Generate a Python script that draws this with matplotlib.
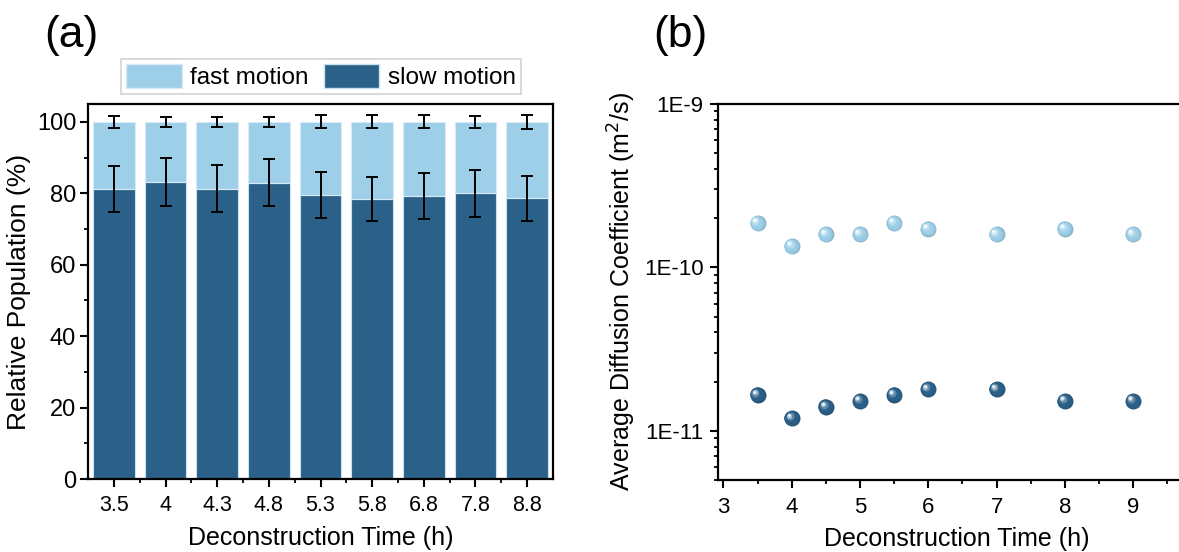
import numpy as np
import matplotlib
matplotlib.use('Agg')
import matplotlib.pyplot as plt
import matplotlib.transforms as mtransforms
from matplotlib.patches import Patch
from matplotlib.ticker import FixedLocator, FuncFormatter, LogLocator, NullFormatter
from matplotlib.colors import to_rgb

plt.rcParams['font.family'] = ['Liberation Sans', 'DejaVu Sans']

# ---- data: panel (a) ----
times_a = ['3.5', '4', '4.3', '4.8', '5.3', '5.8', '6.8', '7.8', '8.8']
slow_pct = [81.2, 83.2, 81.3, 83.0, 79.6, 78.4, 79.2, 80.0, 78.6]
slow_err = [6.5, 6.7, 6.5, 6.6, 6.5, 6.3, 6.4, 6.5, 6.3]
fast_err = [1.6, 1.4, 1.5, 1.4, 1.8, 1.8, 1.8, 1.7, 1.9]

# ---- data: panel (b) ----
times_b = [3.5, 4, 4.5, 5, 5.5, 6, 7, 8, 9]
d_fast = [1.87e-10, 1.35e-10, 1.59e-10, 1.59e-10, 1.87e-10, 1.72e-10, 1.59e-10, 1.72e-10, 1.59e-10]
d_slow = [1.66e-11, 1.19e-11, 1.40e-11, 1.52e-11, 1.66e-11, 1.79e-11, 1.79e-11, 1.52e-11, 1.52e-11]

c_fast = '#9ecfe8'
c_slow = '#2b6189'

W, H = 1179, 552
fig = plt.figure(figsize=(W / 100, H / 100), dpi=100)


def px_axes(x0, y0, x1, y1):
    # pixel box (top-left origin) -> figure fraction
    return fig.add_axes([x0 / W, 1 - y1 / H, (x1 - x0) / W, (y1 - y0) / H])


def style_axes(ax):
    for s in ax.spines.values():
        s.set_linewidth(1.6)
    ax.tick_params(which='major', direction='out', length=5.5, width=1.5, labelsize=15.5, pad=5)
    ax.tick_params(which='minor', direction='out', length=3, width=1.3)


# ---- panel (a): stacked bars ----
ax1 = px_axes(88, 104, 553, 479)
x = np.arange(len(times_a))
fast_pct = [100 - s for s in slow_pct]
ax1.bar(x, slow_pct, width=0.81, color=c_slow, edgecolor='#c8e2f0', linewidth=0.8, zorder=2)
ax1.bar(x, fast_pct, bottom=slow_pct, width=0.81, color=c_fast, edgecolor='#d6ebf5',
        linewidth=0.8, zorder=2)
ax1.errorbar(x, slow_pct, yerr=slow_err, fmt='none', ecolor='black', elinewidth=1.4,
             capsize=4.5, capthick=1.4, zorder=3)
ax1.errorbar(x, [100] * len(x), yerr=fast_err, fmt='none', ecolor='black', elinewidth=1.4,
             capsize=4.5, capthick=1.4, zorder=3)
ax1.set_xlim(-0.5, 8.5)
ax1.set_ylim(0, 105)
ax1.set_xticks(x)
ax1.set_xticklabels(times_a)
ax1.xaxis.set_minor_locator(FixedLocator(x[:-1] + 0.5))
ax1.set_yticks(np.arange(0, 101, 20))
ax1.yaxis.set_minor_locator(FixedLocator(np.arange(10, 100, 20)))
style_axes(ax1)
ax1.tick_params(axis='y', labelsize=17, pad=3)
ax1.tick_params(axis='x', labelsize=15.5, pad=6)
ax1.set_xlabel('Deconstruction Time (h)', fontsize=18, labelpad=7)
ax1.set_ylabel('Relative Population (%)', fontsize=19, labelpad=4)

handles = [Patch(facecolor=c_fast, edgecolor='#d6ebf5'), Patch(facecolor=c_slow, edgecolor='#c8e2f0')]
leg = fig.legend(handles, ['fast motion', 'slow motion'], loc='center',
                 bbox_to_anchor=(321 / W, 1 - 76.5 / H), ncol=2, fontsize=17.5,
                 handlelength=2.3, handleheight=1.15, handletextpad=0.35, columnspacing=0.6,
                 borderpad=0.2, frameon=True, fancybox=False, edgecolor='#c8c8c8')
leg.get_frame().set_linewidth(1.2)

# ---- panel (b): log scatter with shaded spheres ----
ax2 = px_axes(718, 104, 1196, 480)
ax2.set_yscale('log')
ax2.set_xlim(2.92, 9.92)
ax2.set_ylim(5e-12, 1e-9)


def sphere(ax, xs, ys, color, size=11.5):
    base = np.array(to_rgb(color))
    layers = [
        (1.00, 0.00, base * 0.88),
        (0.90, -0.03, base * 0.96),
        (0.74, -0.08, base),
        (0.50, -0.14, base + (1 - base) * 0.25),
        (0.32, -0.18, base + (1 - base) * 0.60),
        (0.16, -0.20, np.ones(3)),
    ]
    for frac, off, col in layers:
        tr = mtransforms.offset_copy(ax.transData, fig=fig, x=off * size, y=-off * size,
                                     units='points')
        ax.plot(xs, ys, 'o', ms=size * frac, color=np.clip(col, 0, 1), mec='none',
                transform=tr, zorder=3, clip_on=False)


sphere(ax2, times_b, d_fast, c_fast)
sphere(ax2, times_b, d_slow, c_slow)

ax2.set_xticks(range(3, 10))
ax2.xaxis.set_minor_locator(FixedLocator(np.arange(3.5, 9.6, 1)))
ax2.yaxis.set_major_locator(FixedLocator([1e-11, 1e-10, 1e-9]))
ax2.yaxis.set_major_formatter(FuncFormatter(lambda v, p: '1E%d' % int(round(np.log10(v)))))
ax2.yaxis.set_minor_locator(LogLocator(base=10, subs=np.arange(2, 10)))
ax2.yaxis.set_minor_formatter(NullFormatter())
style_axes(ax2)
ax2.tick_params(labelsize=16)
ax2.tick_params(axis='x', pad=7)
ax2.set_xlabel('Deconstruction Time (h)', fontsize=18, labelpad=6)
ax2.set_ylabel('Average Diffusion Coefficient (m$^2$/s)', fontsize=18, labelpad=4)

# ---- panel letters ----
fig.text(71 / W, 1 - 36 / H, '(a)', fontsize=32, ha='center', va='center')
fig.text(680 / W, 1 - 36 / H, '(b)', fontsize=32, ha='center', va='center')

fig.savefig('out.png', dpi=100)
